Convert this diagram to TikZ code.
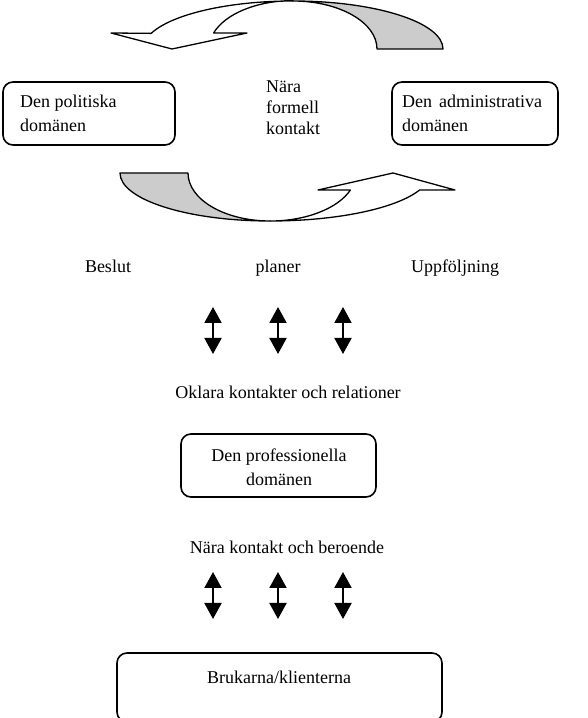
\documentclass[tikz,border=0pt]{standalone}
\usepackage{fontspec}
\setmainfont{Liberation Serif}
\usetikzlibrary{arrows.meta}
\tikzset{
  dombox/.style={draw, line width=1.6pt, rounded corners=10pt, inner sep=0pt},
  lbl/.style={font=\fontsize{18}{21}\selectfont, inner sep=0pt},
  boxtxt/.style={font=\fontsize{18}{24}\selectfont, inner sep=0pt},
  band/.style={draw, line width=1.3pt, line join=round},
  dblarrow/.style={line width=2pt, {Triangle[width=17pt,length=16pt]}-{Triangle[width=17pt,length=16pt]}}
}
\begin{document}
\begin{tikzpicture}[x=1pt,y=1pt]
\useasboundingbox (0,0) rectangle (587,718);
\clip (0,0) rectangle (587,718);
% top curved arrow
\path[band, fill=black!20] (293,717) arc[start angle=90,end angle=0,x radius=150pt,y radius=48pt]
  -- (377,669) arc[start angle=0,end angle=90,x radius=84pt,y radius=48pt] -- cycle;
\path[band, fill=white] (293,717) arc[start angle=90,end angle=161,x radius=150pt,y radius=48pt]
  -- (111,685) -- (172,669) -- (247,685) -- (213.6,685)
  arc[start angle=161,end angle=90,x radius=84pt,y radius=48pt] -- cycle;
% bottom curved arrow
\path[band, fill=black!20] (120,545) -- (188,545)
  arc[start angle=180,end angle=270,x radius=82pt,y radius=48pt]
  arc[start angle=270,end angle=180,x radius=150pt,y radius=48pt] -- cycle;
\path[band, fill=white] (270,497) arc[start angle=270,end angle=339.3,x radius=160pt,y radius=48pt]
  -- (455,528) -- (393,545) -- (318,528) -- (350.4,528)
  arc[start angle=339.3,end angle=270,x radius=86pt,y radius=48pt] -- cycle;
% boxes
\node[dombox, minimum width=172pt, minimum height=63pt] (pol) at (89,604.5) {};
\node[dombox, minimum width=166pt, minimum height=63pt] (adm) at (475,604.5) {};
\node[dombox, minimum width=195pt, minimum height=63pt] (prof) at (278.5,252.5) {};
\node[dombox, minimum width=325pt, minimum height=69pt] (bru) at (279.5,30.5) {};
% box texts
\node[boxtxt, align=left, anchor=west] (poltxt) at (20,605) {Den politiska\\domänen};
\node[boxtxt, align=left, anchor=west] (admtxt) at (402,605) {\makebox[140pt][s]{Den\hfill administrativa}\\domänen};
\node[boxtxt, align=center] (proftxt) at (279,251) {Den professionella\\domänen};
\node[boxtxt] (brutxt) at (279,41) {Brukarna/klienterna};
% labels
\node[lbl, align=left, anchor=west] (nara) at (266,610) {Nära\\formell\\kontakt};
\node[lbl, anchor=base] (beslut) at (108,445) {Beslut};
\node[lbl, anchor=base] (planer) at (278,445) {planer};
\node[lbl, anchor=base] (uppf) at (455,445) {Uppföljning};
\node[lbl] (oklara) at (288,326) {Oklara kontakter och relationer};
\node[lbl] (narak) at (287,171) {Nära kontakt och beroende};
% double arrows
\coordinate (a1t) at (213,411); \coordinate (a1b) at (213,364);
\coordinate (a2t) at (278,411); \coordinate (a2b) at (278,364);
\coordinate (a3t) at (343,411); \coordinate (a3b) at (343,364);
\coordinate (b1t) at (213,146); \coordinate (b1b) at (213,99);
\coordinate (b2t) at (278,146); \coordinate (b2b) at (278,99);
\coordinate (b3t) at (343,146); \coordinate (b3b) at (343,99);
\draw[dblarrow] (a1t) -- (a1b);
\draw[dblarrow] (a2t) -- (a2b);
\draw[dblarrow] (a3t) -- (a3b);
\draw[dblarrow] (b1t) -- (b1b);
\draw[dblarrow] (b2t) -- (b2b);
\draw[dblarrow] (b3t) -- (b3b);
\end{tikzpicture}
\end{document}
